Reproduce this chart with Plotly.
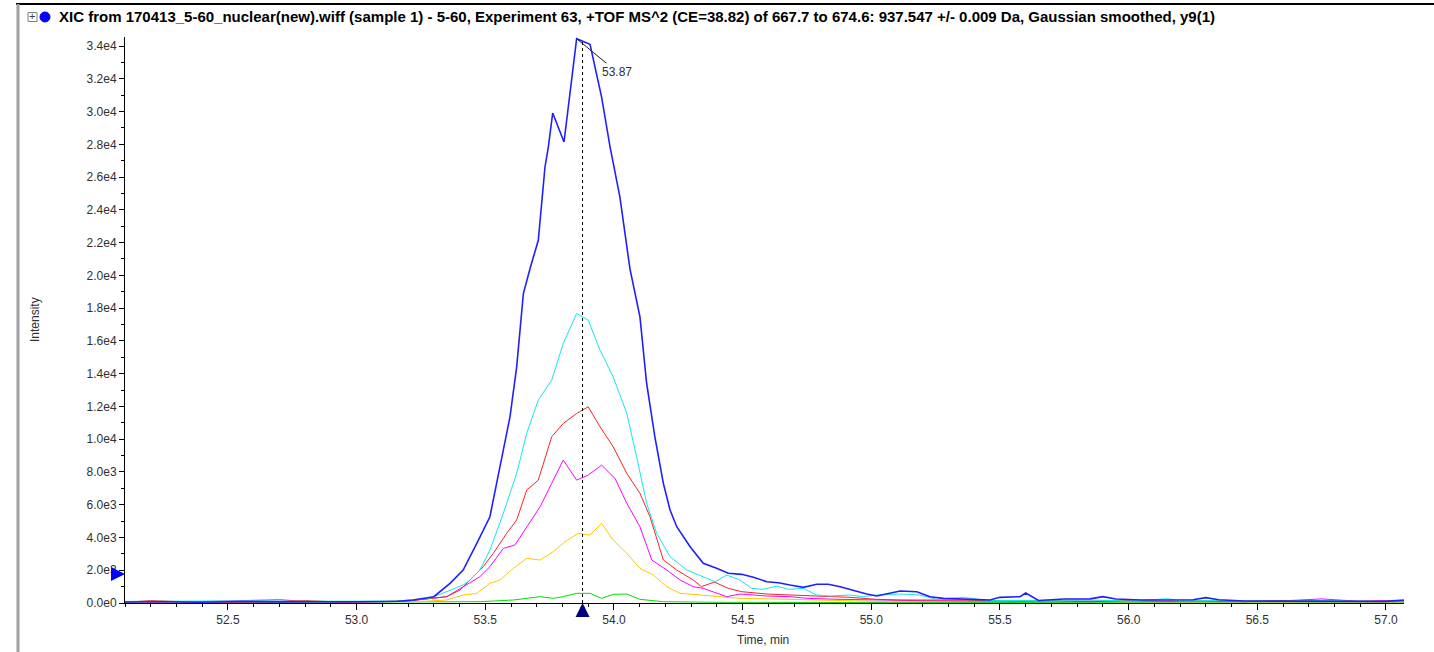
import plotly.graph_objects as go

# ---------------- data ----------------
blue_t = [52.10, 52.25, 52.40, 52.55, 52.70, 52.85, 53.00, 53.10, 53.16, 53.22, 53.30, 53.363, 53.414, 53.467,
          53.518, 53.544, 53.570, 53.596, 53.622, 53.648, 53.674, 53.706, 53.732, 53.745, 53.762, 53.806, 53.855,
          53.907, 53.952, 53.985, 54.023, 54.062, 54.101, 54.127, 54.159, 54.192, 54.218, 54.244, 54.296, 54.347,
          54.399, 54.444, 54.496, 54.542, 54.594, 54.639, 54.684, 54.736, 54.788, 54.833, 54.879, 54.930, 54.982,
          55.021, 55.060, 55.112, 55.177, 55.228, 55.280, 55.358, 55.461, 55.500, 55.578, 55.60, 55.65, 55.75,
          55.85, 55.90, 55.95, 56.05, 56.15, 56.25, 56.30, 56.35, 56.45, 56.60, 56.75, 56.90, 57.00, 57.07]
blue_v = [60, 80, 50, 90, 70, 60, 80, 90, 110, 183, 386, 1200, 2013, 3640,
          5266, 7300, 9333, 11366, 14416, 18890, 20416, 22143, 26616, 27833, 29910, 28140, 34446,
          34100, 30885, 27833, 24785, 20416, 17466, 13400, 10146, 7300, 5673, 4656, 3436, 2420,
          2116, 1811, 1750, 1567, 1301, 1240, 1098, 957, 1140, 1140, 996, 752, 549,
          427, 549, 732, 691, 386, 285, 224, 183, 346, 386, 610, 150, 240,
          250, 386, 240, 180, 180, 200, 330, 200, 120, 120, 110, 100, 100, 170]

cyan_t = [52.10, 52.30, 52.45, 52.60, 52.75, 52.90, 53.05, 53.15, 53.285, 53.363, 53.414, 53.441, 53.479, 53.518,
          53.570, 53.622, 53.661, 53.706, 53.758, 53.803, 53.855, 53.900, 53.946, 53.997, 54.050, 54.088, 54.127,
          54.166, 54.218, 54.283, 54.347, 54.393, 54.438, 54.490, 54.535, 54.580, 54.633, 54.678, 54.736, 54.788,
          54.840, 54.917, 54.969, 55.021, 55.112, 55.189, 55.254, 55.358, 55.461, 55.578, 55.70, 55.85, 56.00,
          56.15, 56.20, 56.35, 56.55, 56.75, 56.95, 57.07]
cyan_v = [100, 120, 90, 130, 110, 100, 120, 110, 285, 793, 1098, 1403, 2013, 3233,
          5469, 7910, 10350, 12383, 13603, 15843, 17673, 17266, 15433, 13806, 11570, 8925, 6082,
          4252, 2826, 2013, 1605, 1301, 1708, 1403, 894, 834, 1037, 834, 894, 488,
          427, 488, 386, 488, 549, 488, 224, 346, 142, 142, 150, 180, 120,
          260, 130, 150, 100, 140, 90, 120]

red_t = [52.10, 52.20, 52.35, 52.50, 52.65, 52.80, 52.95, 53.091, 53.20, 53.350, 53.402, 53.453, 53.492, 53.531,
         53.583, 53.622, 53.661, 53.706, 53.758, 53.803, 53.855, 53.900, 53.946, 53.997, 54.050, 54.101, 54.140,
         54.192, 54.244, 54.308, 54.340, 54.390, 54.444, 54.496, 54.542, 54.594, 54.684, 54.788, 54.840, 54.917,
         55.021, 55.112, 55.228, 55.358, 55.578, 55.70, 55.85, 56.00, 56.15, 56.30, 56.45, 56.60, 56.80, 56.95,
         57.07]
red_v = [40, 150, 60, 40, 70, 150, 50, 80, 120, 386, 793, 1605, 2216, 3029,
         4252, 5063, 6893, 7503, 10146, 10960, 11570, 11976, 10756, 9536, 7910, 6692, 5266,
         2623, 2013, 1403, 1000, 1280, 894, 691, 630, 549, 488, 427, 427, 346,
         224, 183, 183, 183, 122, 150, 80, 150, 100, 140, 80, 150, 100, 80,
         100]

magenta_t = [52.10, 52.25, 52.40, 52.55, 52.65, 52.70, 52.80, 52.95, 53.091, 53.20, 53.350, 53.414, 53.479,
             53.518, 53.570, 53.615, 53.661, 53.713, 53.758, 53.803, 53.855, 53.900, 53.952, 54.004, 54.050,
             54.101, 54.147, 54.205, 54.257, 54.308, 54.347, 54.393, 54.438, 54.490, 54.542, 54.594, 54.684,
             54.750, 54.879, 55.021, 55.200, 55.400, 55.600, 55.80, 56.00, 56.20, 56.40, 56.60, 56.75, 56.90,
             57.07]
magenta_v = [80, 60, 90, 130, 150, 200, 100, 60, 80, 130, 386, 996, 1605,
             2216, 3334, 3538, 4656, 5876, 7300, 8723, 7503, 7808, 8418, 7605, 6082,
             4656, 2623, 2013, 1403, 996, 894, 630, 386, 549, 488, 427, 386,
             285, 224, 183, 142, 122, 130, 100, 150, 120, 100, 130, 250, 100,
             180]

yellow_t = [52.10, 52.30, 52.50, 52.70, 52.90, 53.10, 53.25, 53.350, 53.414, 53.467, 53.518, 53.557, 53.609,
            53.661, 53.713, 53.764, 53.810, 53.861, 53.907, 53.952, 53.997, 54.050, 54.101, 54.153, 54.205,
            54.257, 54.334, 54.393, 54.490, 54.684, 54.879, 55.070, 55.30, 55.60, 55.90, 56.20, 56.50, 56.80,
            57.07]
yellow_v = [30, 40, 30, 50, 40, 40, 90, 183, 488, 590, 1200, 1403, 2114,
            2725, 2623, 3131, 3740, 4252, 4148, 4860, 3843, 3029, 2114, 1708, 996,
            590, 488, 386, 285, 224, 142, 80, 100, 70, 80, 60, 70, 50,
            60]

green_t = [52.10, 52.40, 52.70, 53.00, 53.30, 53.479, 53.609, 53.713, 53.764, 53.803, 53.855, 53.907, 53.952,
           53.997, 54.050, 54.101, 54.192, 54.40, 54.70, 55.00, 55.40, 55.80, 56.20, 56.60, 57.07]
green_v = [20, 30, 20, 30, 40, 80, 183, 386, 285, 386, 590, 590, 285,
           529, 549, 224, 80, 40, 30, 30, 20, 30, 20, 30, 20]

y_tick_values = list(range(0, 34001, 2000))
x_tick_values = [52.5, 53.0, 53.5, 54.0, 54.5, 55.0, 55.5, 56.0, 56.5, 57.0]
apex_label = "53.87"
cursor_time = 53.878
cursor_intensity = 1770

title_text = ("XIC from 170413_5-60_nuclear(new).wiff (sample 1) - 5-60, Experiment 63, +TOF MS^2 (CE=38.82) "
              "of 667.7 to 674.6: 937.547 +/- 0.009 Da, Gaussian smoothed, y9(1)")

# ---------------- layout geometry ----------------
W, H = 1434, 652
L, R, T, B = 125, 1404, 37, 603


def px(x):
    return (x - L) / (R - L)


def py(y):
    return (B - y) / (B - T)


def sci(v):
    if v == 0:
        return "0.0e0"
    e = len(str(int(v))) - 1
    return f"{v / 10 ** e:.1f}e{e}"


fig = go.Figure()
series = [
    (green_t, green_v, "#00E000", 1),
    (yellow_t, yellow_v, "#FFC800", 1),
    (magenta_t, magenta_v, "#FF00FF", 1),
    (red_t, red_v, "#FF2020", 1),
    (cyan_t, cyan_v, "#10E8F0", 1),
    (blue_t, blue_v, "#2020FF", 1.6),
]
for t, v, c, w in series:
    fig.add_trace(go.Scatter(x=t, y=v, mode="lines", line=dict(color=c, width=w), showlegend=False,
                             hoverinfo="skip", cliponaxis=True))

font_axis = dict(family="Liberation Sans, Arial, sans-serif", size=12, color="#303030")

fig.update_xaxes(range=[52.10, 57.07], tickvals=x_tick_values, ticktext=[f"{v:.1f}" for v in x_tick_values],
                 ticks="outside", ticklen=6, tickcolor="#000", showline=True, linecolor="#000", linewidth=1,
                 showgrid=False, zeroline=False, tickfont=font_axis,
                 minor=dict(dtick=0.1, tick0=52.0, ticks="outside", ticklen=3, tickcolor="#000", showgrid=False))
fig.update_yaxes(range=[0, 34550], tickvals=y_tick_values, ticktext=[sci(v) for v in y_tick_values],
                 ticks="outside", ticklen=5, tickcolor="#000", showline=True, linecolor="#000", linewidth=1,
                 showgrid=False, zeroline=False, tickfont=font_axis,
                 minor=dict(dtick=1000, tick0=0, ticks="outside", ticklen=3, tickcolor="#000", showgrid=False))

apex_i = max(range(len(blue_v)), key=lambda i: blue_v[i])

shapes = [
    # window frame
    dict(type="line", xref="paper", yref="paper", x0=px(16), x1=px(W), y0=py(4), y1=py(4),
         line=dict(color="#000", width=2)),
    dict(type="line", xref="paper", yref="paper", x0=px(18), x1=px(18), y0=py(4), y1=py(H),
         line=dict(color="#A0A0A0", width=3)),
    # +/- box and blue dot
    dict(type="rect", xref="paper", yref="paper", x0=px(28), x1=px(37), y0=py(21.5), y1=py(12.5),
         line=dict(color="#808080", width=1), fillcolor="white"),
    dict(type="circle", xref="paper", yref="paper", x0=px(40), x1=px(50), y0=py(22), y1=py(12),
         line=dict(color="#0000FF", width=1), fillcolor="#0000FF"),
    # cursor dotted line
    dict(type="line", xref="x", yref="paper", x0=cursor_time, x1=cursor_time, y0=0, y1=py(39),
         line=dict(color="#000", width=1, dash="dot")),
]

annotations = [
    dict(text="+", xref="paper", yref="paper", x=px(32.5), y=py(16.5), showarrow=False,
         font=dict(family="Liberation Sans, Arial", size=11, color="#404040"), xanchor="center", yanchor="middle"),
    dict(text=f"<b>{title_text}</b>", xref="paper", yref="paper", x=px(57), y=py(17), showarrow=False,
         xanchor="left", yanchor="middle",
         font=dict(family="Liberation Sans Narrow, Arial Narrow, Liberation Sans, sans-serif", size=15,
                   color="#000")),
    dict(text="Intensity", xref="paper", yref="paper", x=px(35), y=py(320), showarrow=False, textangle=-90,
         xanchor="center", yanchor="middle", font=font_axis),
    dict(text="Time, min", xref="paper", yref="paper", x=px(763), y=py(640), showarrow=False,
         xanchor="center", yanchor="middle", font=font_axis),
    dict(text=apex_label, x=blue_t[apex_i], y=blue_v[apex_i], xref="x", yref="y", showarrow=True,
         arrowhead=0, arrowwidth=1, arrowcolor="#202020", ax=40, ay=33, font=font_axis),
    # cursor arrows
    dict(text="", x=blue_t[0], y=cursor_intensity, xref="x", yref="y", showarrow=True, arrowhead=2,
         arrowsize=0.7, arrowwidth=4, arrowcolor="#0000FF", ax=-13, ay=0),
    dict(text="", x=cursor_time, y=0, xref="x", yref="y", showarrow=True, arrowhead=2,
         arrowsize=0.7, arrowwidth=4, arrowcolor="#000080", ax=0, ay=15),
]

fig.update_layout(width=W, height=H, autosize=False, margin=dict(l=L, r=W - R, t=T, b=H - B),
                  paper_bgcolor="white", plot_bgcolor="white", shapes=shapes, annotations=annotations,
                  showlegend=False)

fig.write_html("out.html", config={"displayModeBar": False},
               post_script="document.body.style.margin='0px';document.body.style.overflow='hidden';")
